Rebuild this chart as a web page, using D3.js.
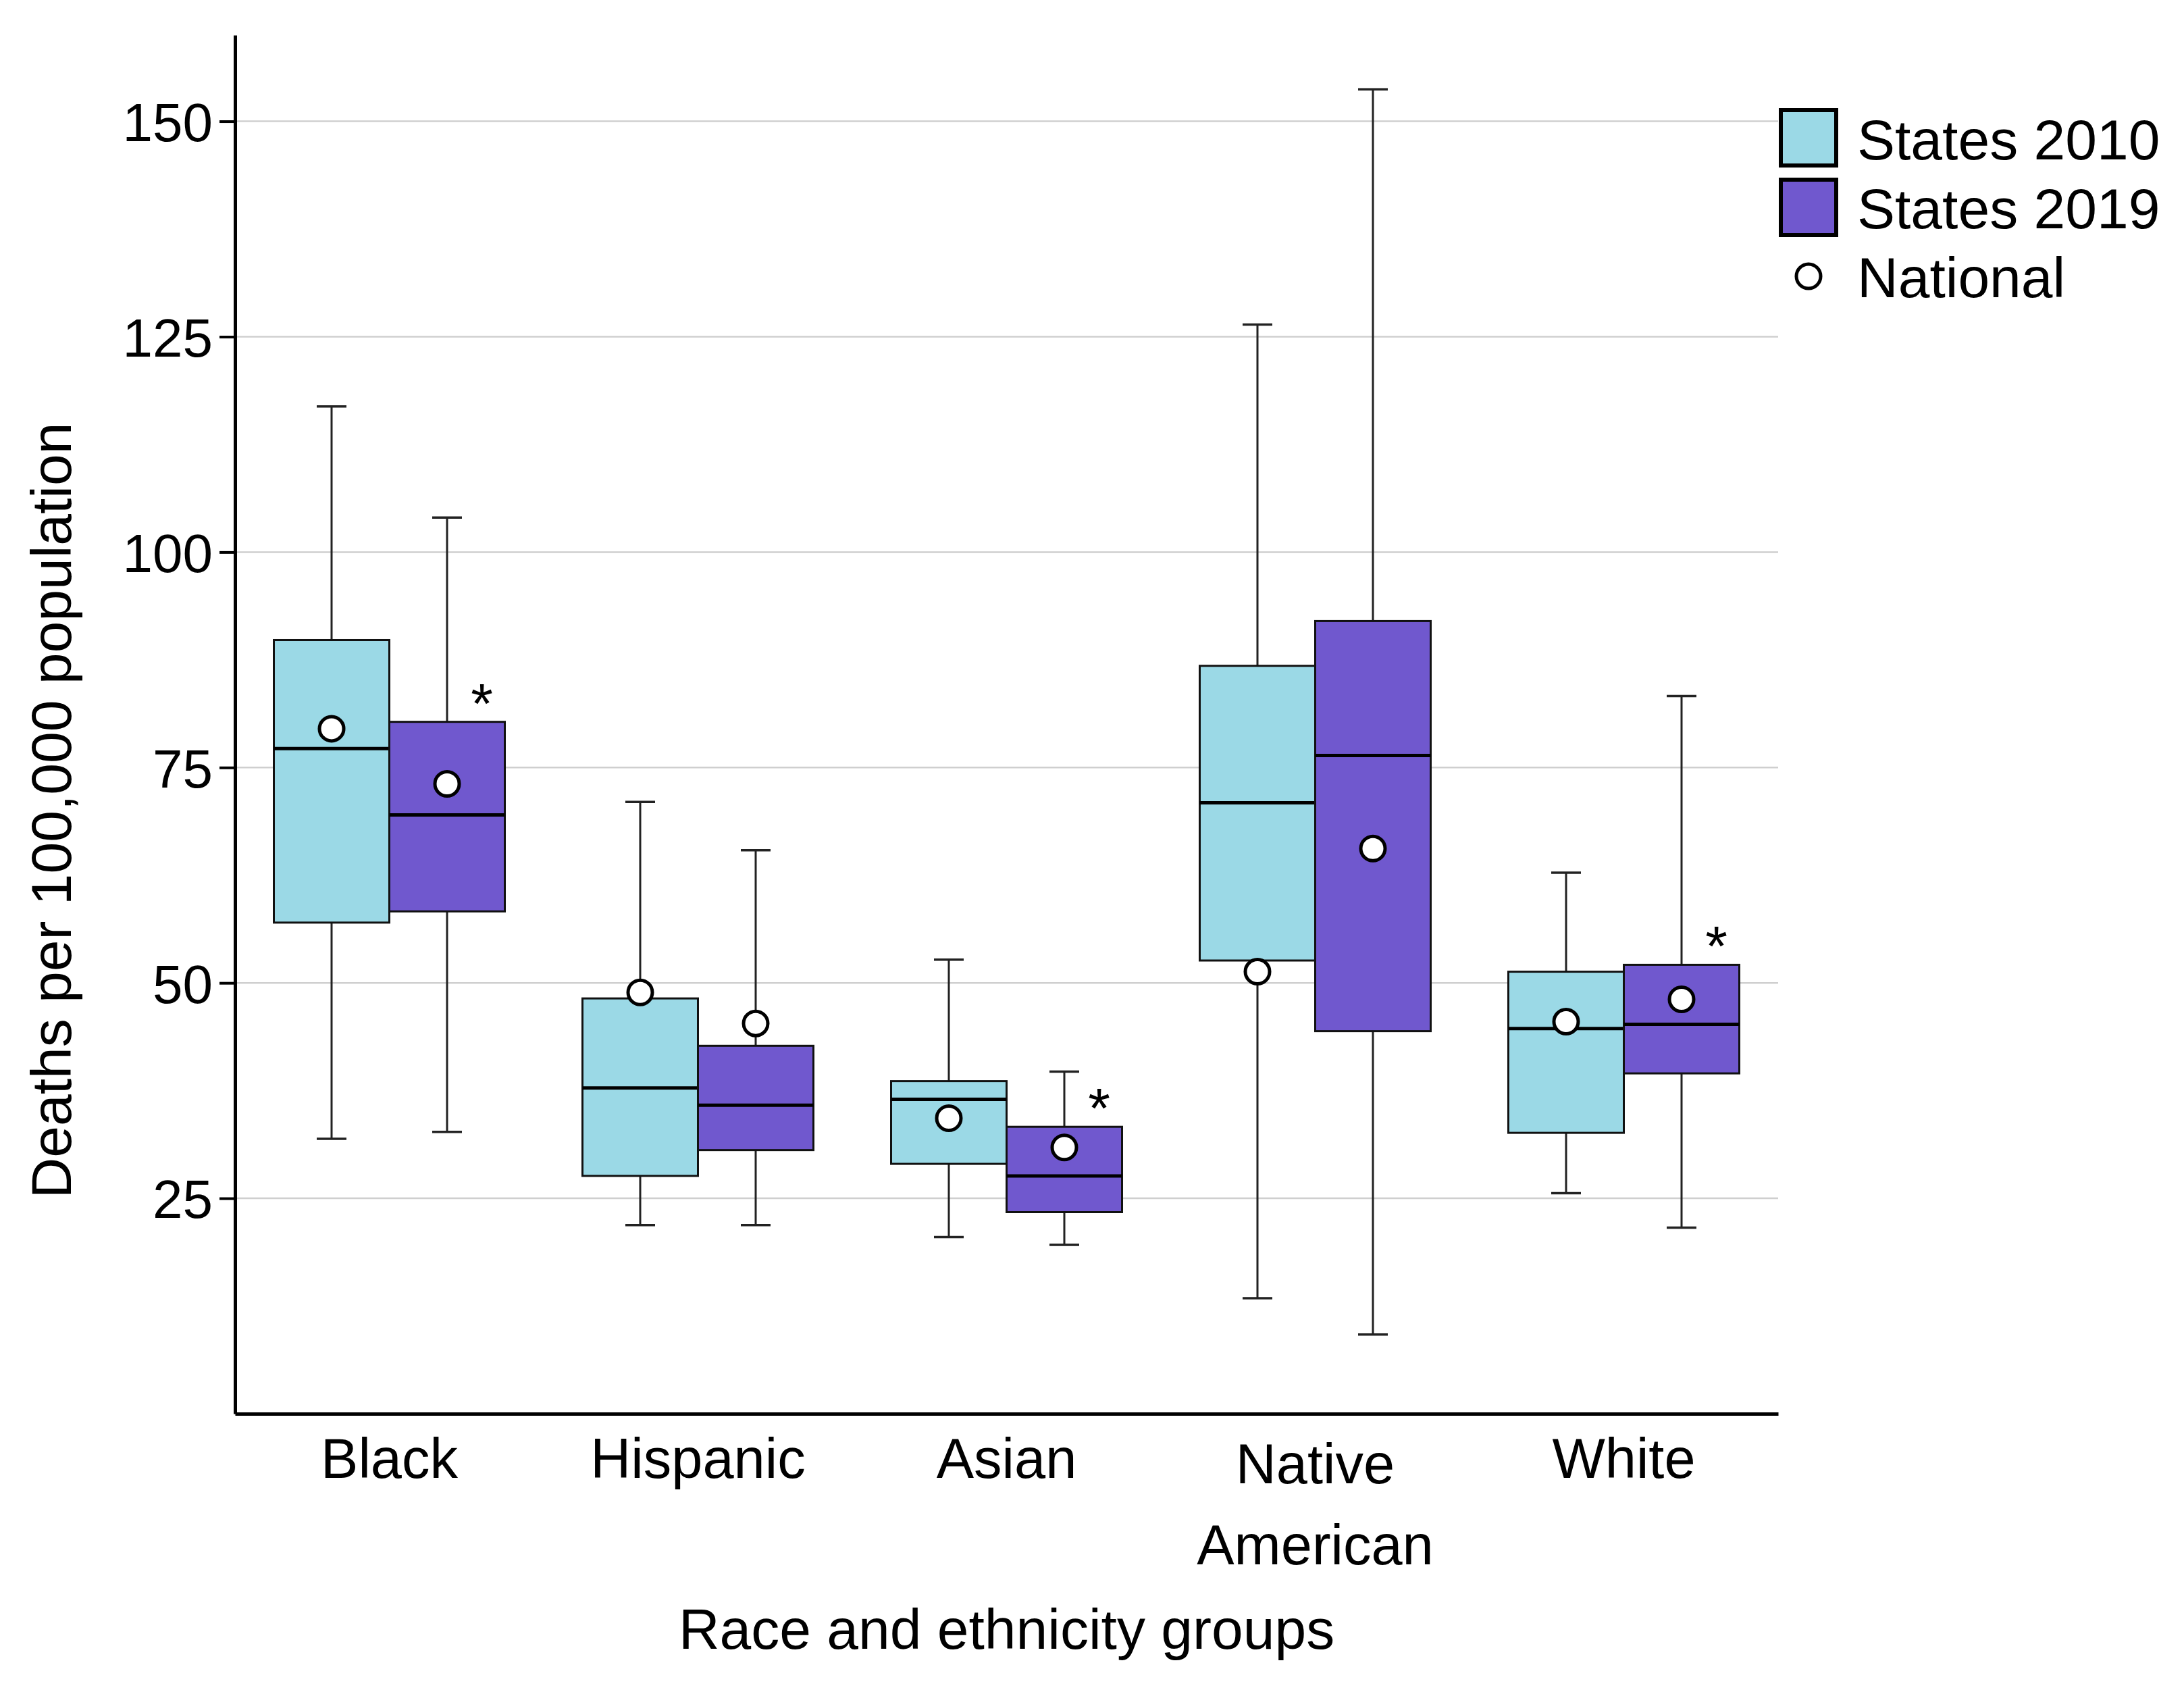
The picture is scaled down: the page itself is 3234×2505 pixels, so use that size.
<!DOCTYPE html>
<html>
<head>
<meta charset="utf-8">
<script src="https://cdn.jsdelivr.net/npm/d3@7"></script>
<style>
  html, body { margin: 0; padding: 0; background: #fff; }
  text { font-family: "Liberation Sans", Arial, sans-serif; fill: #000; }
</style>
</head>
<body>
<div id="chart"></div>
<script>
// categories and box stats
const categories = ["Black", "Hispanic", "Asian", "Native American", "White"];
const years = ["2010", "2019"];

const low2010    = [31.9, 21.9, 20.5, 13.4, 25.6];
const q1_2010    = [57.0, 27.6, 29.0, 52.6, 32.6];
const median2010 = [77.2, 37.8, 36.5, 70.9, 44.7];
const q3_2010    = [89.8, 48.2, 38.6, 86.8, 51.3];
const high2010   = [116.9, 71.0, 52.7, 126.4, 62.8];
const national2010 = [79.5, 48.9, 34.3, 51.3, 45.5];

const low2019    = [32.7, 21.9, 19.6, 9.2, 21.6];
const q1_2019    = [58.3, 30.6, 23.4, 44.4, 39.5];
const median2019 = [69.5, 35.8, 27.6, 76.4, 45.2];
const q3_2019    = [80.3, 42.7, 33.3, 92.0, 52.1];
const high2019   = [104.0, 65.4, 39.7, 153.7, 83.3];
const national2019 = [73.1, 45.3, 30.9, 65.6, 48.1];
const significant2019 = [true, false, true, false, true];

const yTicks = [25, 50, 75, 100, 125, 150];
const legendLabels = ["States 2010", "States 2019", "National"];

const width = 3234, height = 2505;
const color = { "2010": "#9bd9e6", "2019": "#7058ce" };

// build rows for drawing
const rows = [];
categories.forEach((c, i) => {
  rows.push({ cat: c, year: "2010", lo: low2010[i], q1: q1_2010[i], med: median2010[i], q3: q3_2010[i], hi: high2010[i], nat: national2010[i], sig: false });
  rows.push({ cat: c, year: "2019", lo: low2019[i], q1: q1_2019[i], med: median2019[i], q3: q3_2019[i], hi: high2019[i], nat: national2019[i], sig: significant2019[i] });
});

const svg = d3.select("#chart").append("svg")
  .attr("width", width)
  .attr("height", height);

const x = d3.scaleBand().domain(categories).range([348, 2633]).padding(0);
const bw = x.bandwidth();
const xs = d3.scaleBand().domain(years).range([bw / 2 - 171, bw / 2 + 171]).padding(0);
const y = d3.scaleLinear().domain([0, 160]).range([2093, 52]);

// gridlines
svg.append("g")
  .selectAll("line")
  .data(yTicks)
  .join("line")
  .attr("x1", x.range()[0])
  .attr("x2", x.range()[1])
  .attr("y1", d => y(d))
  .attr("y2", d => y(d))
  .attr("stroke", "#cfcfcf")
  .attr("stroke-width", 2.5);

// y axis
const yAxis = svg.append("g")
  .attr("transform", `translate(${x.range()[0]},0)`)
  .call(d3.axisLeft(y).tickValues(yTicks).tickSize(23).tickSizeOuter(0).tickPadding(10));
yAxis.select(".domain").attr("stroke", "#000").attr("stroke-width", 5);
yAxis.selectAll(".tick line").attr("stroke", "#000").attr("stroke-width", 4);
yAxis.selectAll(".tick text")
  .attr("font-size", 80)
  .attr("font-family", "Liberation Sans, Arial, sans-serif")
  .attr("dy", "0.36em");

// x axis
const xAxis = svg.append("g")
  .attr("transform", `translate(0,${y(0)})`)
  .call(d3.axisBottom(x).tickSize(0).tickSizeOuter(0).tickFormat(""));
xAxis.select(".domain").attr("stroke", "#000").attr("stroke-width", 5);

const catLabels = svg.append("g")
  .selectAll("text")
  .data(categories)
  .join("text")
  .attr("x", d => x(d) + bw / 2)
  .attr("y", d => d === "Native American" ? 2196 : 2188)
  .attr("text-anchor", "middle")
  .attr("font-size", 83);
catLabels.each(function (d) {
  const parts = d.split(" ");
  const t = d3.select(this);
  parts.forEach((p, k) => {
    t.append("tspan")
      .attr("x", x(d) + bw / 2)
      .attr("dy", k === 0 ? 0 : 120)
      .text(p);
  });
});

// axis titles
svg.append("text")
  .attr("x", (x.range()[0] + x.range()[1]) / 2)
  .attr("y", 2441)
  .attr("text-anchor", "middle")
  .attr("font-size", 84)
  .text("Race and ethnicity groups");

svg.append("text")
  .attr("transform", "translate(105,1200) rotate(-90)")
  .attr("text-anchor", "middle")
  .attr("font-size", 84)
  .text("Deaths per 100,000 population");

// boxes
const boxes = svg.append("g")
  .selectAll("g")
  .data(rows)
  .join("g")
  .attr("transform", d => `translate(${x(d.cat) + xs(d.year)},0)`);

const sw = xs.bandwidth();
const capW = 44;

boxes.append("line")
  .attr("x1", sw / 2).attr("x2", sw / 2)
  .attr("y1", d => y(d.hi)).attr("y2", d => y(d.lo))
  .attr("stroke", "#222").attr("stroke-width", 3);
boxes.append("line")
  .attr("x1", sw / 2 - capW / 2).attr("x2", sw / 2 + capW / 2)
  .attr("y1", d => y(d.hi)).attr("y2", d => y(d.hi))
  .attr("stroke", "#222").attr("stroke-width", 3.5);
boxes.append("line")
  .attr("x1", sw / 2 - capW / 2).attr("x2", sw / 2 + capW / 2)
  .attr("y1", d => y(d.lo)).attr("y2", d => y(d.lo))
  .attr("stroke", "#222").attr("stroke-width", 3.5);

boxes.append("rect")
  .attr("x", 0)
  .attr("width", sw)
  .attr("y", d => y(d.q3))
  .attr("height", d => y(d.q1) - y(d.q3))
  .attr("fill", d => color[d.year])
  .attr("stroke", "#111")
  .attr("stroke-width", 3);

boxes.append("line")
  .attr("x1", 0).attr("x2", sw)
  .attr("y1", d => y(d.med)).attr("y2", d => y(d.med))
  .attr("stroke", "#000").attr("stroke-width", 5);

boxes.append("circle")
  .attr("cx", sw / 2)
  .attr("cy", d => y(d.nat))
  .attr("r", 18)
  .attr("fill", "#fff")
  .attr("stroke", "#000")
  .attr("stroke-width", 5);

boxes.filter(d => d.sig)
  .append("text")
  .attr("x", sw - 34)
  .attr("y", d => y(d.q3) + 2)
  .attr("text-anchor", "middle")
  .attr("font-size", 84)
  .text("*");

// legend
const legend = svg.append("g");
const legendRows = legend.selectAll("g")
  .data(legendLabels)
  .join("g")
  .attr("transform", (d, i) => `translate(2637,${163 + i * 103})`);

legendRows.filter((d, i) => i < 2)
  .append("rect")
  .attr("width", 82)
  .attr("height", 82)
  .attr("fill", (d, i) => color[years[i]])
  .attr("stroke", "#000")
  .attr("stroke-width", 6);

legendRows.filter((d, i) => i === 2)
  .append("circle")
  .attr("cx", 41)
  .attr("cy", 40)
  .attr("r", 18)
  .attr("fill", "#fff")
  .attr("stroke", "#000")
  .attr("stroke-width", 5);

legendRows.append("text")
  .attr("x", 113)
  .attr("y", (d, i) => [73, 72, 71][i])
  .attr("font-size", 84)
  .text(d => d);
</script>
</body>
</html>
